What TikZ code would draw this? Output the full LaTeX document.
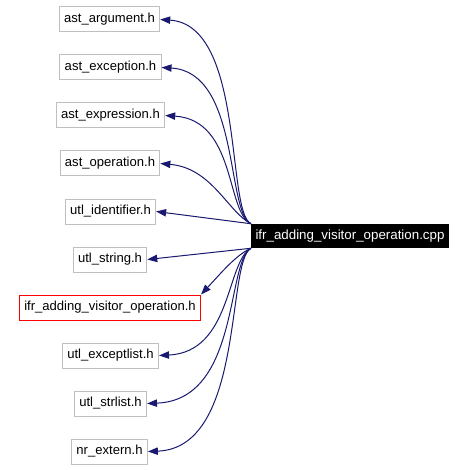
\documentclass[tikz,border=0pt]{standalone}
\usepackage{fontspec}
\setmainfont{Liberation Sans}
\usetikzlibrary{arrows.meta}
\definecolor{edgeblue}{RGB}{25,25,112}
\definecolor{boxgray}{RGB}{191,191,191}
\tikzset{
  hdr/.style={draw=boxgray, line width=0.75pt, minimum height=18.75pt, inner xsep=3.6pt, inner ysep=0pt, font=\fontsize{9.8}{11}\selectfont},
  curhdr/.style={hdr, draw=red},
  cppfile/.style={fill=black, text=white, minimum height=18pt, inner xsep=3.2pt, inner ysep=0pt, font=\fontsize{10}{11}\selectfont},
  inc/.style={draw=edgeblue, line width=0.75pt, -{Triangle[length=7.5pt,width=5.5pt]}}
}
\begin{document}
\begin{tikzpicture}[x=0.75pt,y=0.75pt,yscale=-1,xscale=1]
\useasboundingbox (0,0) rectangle (467,470);

% Text Node
\node[cppfile] (main) at (350,236) {ifr\_adding\_visitor\_operation.cpp};
% Text Node
\node[hdr] (astarg) at (109.5,19.5) {ast\_argument.h};
% Text Node
\node[hdr] (astexc) at (110.5,67.5) {ast\_exception.h};
% Text Node
\node[hdr] (astexpr) at (110.5,115.5) {ast\_expression.h};
% Text Node
\node[hdr] (astop) at (110,163.5) {ast\_operation.h};
% Text Node
\node[hdr] (utlid) at (110.5,211.5) {utl\_identifier.h};
% Text Node
\node[hdr] (utlstr) at (110,259.5) {utl\_string.h};
% Text Node
\node[curhdr] (ifrh) at (110,307.5) {ifr\_adding\_visitor\_operation.h};
% Text Node
\node[hdr] (utlexc) at (110.5,355.5) {utl\_exceptlist.h};
% Text Node
\node[hdr] (utlsl) at (110.5,403.5) {utl\_strlist.h};
% Text Node
\node[hdr] (nrext) at (109.5,451.5) {nr\_extern.h};

%Curves up
\draw[inc] (main.north west) .. controls (226,212) and (245,25) .. (astarg.east);
\draw[inc] (main.north west) .. controls (226,212) and (240,72) .. (astexc.east);
\draw[inc] (main.north west) .. controls (226,212) and (236,120) .. (astexpr.east);
\draw[inc] (main.north west) .. controls (228,212) and (212,168) .. (astop.east);
%Straight Lines
\draw[inc] (main.north west) -- (utlid.east);
\draw[inc] (main.south west) -- (utlstr.east);
%Curves down
\draw[inc] (main.south west) .. controls (236,255) and (222,272) .. (ifrh.north east);
\draw[inc] (main.south west) .. controls (226,262) and (232,352) .. (utlexc.east);
\draw[inc] (main.south west) .. controls (226,262) and (240,400) .. (utlsl.east);
\draw[inc] (main.south west) .. controls (226,262) and (245,448) .. (nrext.east);

\end{tikzpicture}
\end{document}
